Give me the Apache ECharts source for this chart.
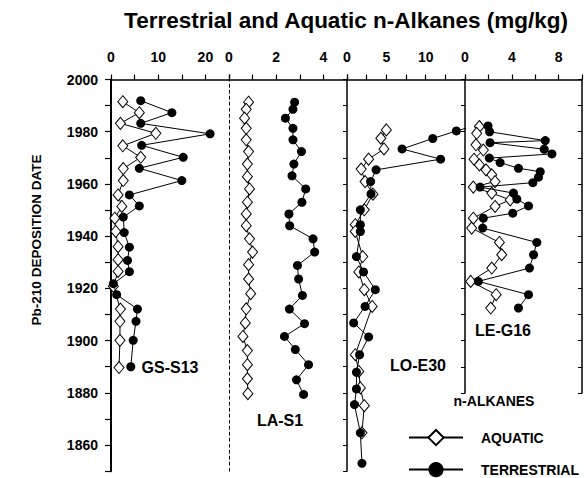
<!DOCTYPE html>
<html><head><meta charset="utf-8">
<script src="https://cdn.jsdelivr.net/npm/echarts@6/dist/echarts.min.js"></script>
<style>html,body{margin:0;padding:0;background:#fff}#c{width:585px;height:478px}</style>
</head><body><div id="c"></div>
<script>
// ---- data (values in mg/kg, by Pb-210 deposition year) ----
const gsYearAq = [1991.5,1987.3,1983.2,1979.4,1974.6,1970.2,1965.9,1961.3,1955.8,1951.4,1946.9,1941.8,1936.0,1931.0,1926.5,1920.8,1912.1,1907.4,1900.1,1889.7];
const gsAq     = [2.5,6.0,2.0,9.5,2.5,6.3,2.6,2.6,1.5,2.3,0.8,1.0,1.5,1.5,1.5,0.5,2.0,1.9,1.9,1.7];
const gsYearTe = [1991.9,1987.3,1983.2,1979.2,1974.8,1970.2,1966.0,1961.3,1955.8,1951.6,1947.3,1941.4,1935.8,1930.7,1926.4,1921.8,1917.6,1912.1,1907.4,1900.1,1890.0];
const gsTe     = [6.3,12.9,6.3,21.0,6.5,15.3,6.0,15.0,3.9,6.0,2.6,2.8,3.9,3.5,3.9,0.5,1.2,5.6,5.3,4.7,4.2];

const laYearAq = [1991.3,1988.6,1985.2,1981.3,1976.9,1972.4,1967.6,1962.8,1958.1,1953.0,1948.5,1944.0,1939.0,1933.9,1929.1,1923.6,1918.0,1912.2,1906.8,1901.6,1896.2,1890.8,1885.4,1879.7];
const laAq     = [0.83,0.73,0.66,0.73,0.73,0.83,0.78,0.78,0.87,0.78,0.73,0.73,0.87,1.0,0.83,0.83,0.92,0.73,0.69,0.59,0.78,0.78,0.78,0.8];
const laYearTe = [1991.3,1988.6,1985.2,1981.3,1976.9,1972.4,1967.6,1963.1,1958.1,1953.0,1948.5,1944.0,1939.0,1933.9,1928.8,1923.6,1917.3,1912.1,1906.5,1901.6,1896.6,1890.8,1885.0,1879.4];
const laTe     = [2.78,2.71,2.39,2.71,2.71,3.07,2.75,2.67,3.25,3.09,2.54,2.57,3.56,3.63,2.9,2.95,3.11,2.56,3.2,2.35,2.81,3.37,2.86,3.16];

const loYearAq = [1980.7,1977.5,1973.4,1969.5,1965.7,1960.9,1956.1,1950.1,1944.4,1941.8,1932.2,1926.3,1919.5,1913.1,1894.6,1888.2,1881.9,1875.1,1864.7];
const loAq     = [5.0,4.3,4.7,2.75,1.8,2.3,3.3,2.2,1.05,1.05,2.0,1.5,2.2,3.2,1.05,1.5,1.7,2.2,1.9];
const loYearTe = [1982.5,1980.3,1977.4,1973.4,1969.5,1965.4,1960.9,1956.2,1950.1,1944.4,1941.8,1932.2,1926.3,1919.5,1913.1,1906.8,1901.4,1894.6,1887.9,1881.5,1875.5,1864.7,1853.0];
const loTe     = [16.5,13.9,10.9,7.0,11.9,3.7,3.0,3.05,1.7,1.7,1.7,1.2,2.1,3.6,2.3,0.85,2.75,1.6,1.2,1.2,0.95,1.7,1.9];

const leYearAq = [1982.0,1979.4,1975.0,1973.0,1969.5,1967.3,1965.4,1963.5,1960.9,1958.8,1956.5,1953.9,1951.4,1946.9,1943.1,1937.6,1932.9,1927.8,1922.7,1917.6,1912.5];
const leAq     = [1.23,1.0,0.94,1.57,0.77,1.23,1.8,2.29,2.57,0.71,2.29,3.86,2.57,0.71,0.57,2.94,3.14,2.29,0.49,2.66,2.2];
const leYearTe = [1982.2,1980.0,1976.6,1975.8,1973.3,1971.5,1969.9,1968.2,1966.0,1964.7,1962.6,1960.5,1958.8,1956.5,1954.2,1951.6,1948.8,1946.9,1943.1,1937.6,1932.9,1927.8,1922.7,1917.6,1912.5];
const leTe     = [1.97,2.1,6.86,2.14,6.77,7.43,2.08,3.0,4.57,6.43,6.28,5.8,1.29,4.14,4.43,5.43,4.08,1.57,1.51,6.14,5.86,5.51,1.14,5.43,4.57];

const panelNames = ['GS-S13','LA-S1','LO-E30','LE-G16'];
const xMax = [25, 5, 15, 10];
const xInterval = [5, 1, 2.5, 2];
const xLabelStep = [10, 2, 5, 4];
const yearTicks = [1850, 2000, 10, 20];  // min, max, interval, label step
const seriesNames = ['AQUATIC','TERRESTRIAL'];

// ---- layout ----
const FONT = '"Liberation Sans", Arial, Helvetica, sans-serif';
const panelLeft = [111, 229, 347, 465];
const panelWidth = [118, 118, 118, 117];
const aqData = [[gsYearAq,gsAq],[laYearAq,laAq],[loYearAq,loAq],[leYearAq,leAq]];
const teData = [[gsYearTe,gsTe],[laYearTe,laTe],[loYearTe,loTe],[leYearTe,leTe]];
function pair(ys, vs){ return ys.map((y,i)=>[vs[i], y]); }

const grid = panelLeft.map((l,i)=>({left:l, width:panelWidth[i], top:79.5, bottom: i<3 ? 6.8 : 85.1}));
const xAxis = panelLeft.map((l,i)=>({
  gridIndex:i, type:'value', position:'top', min:0, max:xMax[i], interval:xInterval[i],
  axisLine:{show:true, onZero:false, lineStyle:{color:'#000', width:1.5}},
  axisTick:{show:true, length:5, lineStyle:{color:'#000', width:1.2}},
  axisLabel:{formatter: v => (Math.abs(v % xLabelStep[i])<1e-6 && v < xMax[i]) ? String(v) : '',
    margin:16, color:'#000', fontWeight:'bold', fontSize:14, fontFamily:FONT},
  splitLine:{show:false}
}));
const yBase = {type:'value', max:yearTicks[1], interval:yearTicks[2], splitLine:{show:false}};
const yAxis = [
  Object.assign({}, yBase, {gridIndex:0, min:yearTicks[0],
    axisLine:{show:true, onZero:false, lineStyle:{color:'#000', width:2}},
    axisTick:{show:true, length:6, lineStyle:{color:'#000', width:1.2}},
    axisLabel:{formatter: v => (v % yearTicks[3] === 0 && v > yearTicks[0]) ? String(v) : '', margin:13,
      color:'#000', fontWeight:'bold', fontSize:14, fontFamily:FONT}}),
  Object.assign({}, yBase, {gridIndex:1, min:yearTicks[0],
    axisLine:{show:true, onZero:false, lineStyle:{color:'#000', width:1, type:[3,3]}},
    axisTick:{show:false}, axisLabel:{show:false}}),
  Object.assign({}, yBase, {gridIndex:2, min:yearTicks[0],
    axisLine:{show:true, onZero:false, lineStyle:{color:'#000', width:1.5}},
    axisTick:{show:true, length:4, lineStyle:{color:'#000'}}, axisLabel:{show:false}}),
  Object.assign({}, yBase, {gridIndex:3, min:1880,
    axisLine:{show:true, onZero:false, lineStyle:{color:'#000', width:1.5}},
    axisTick:{show:true, length:4, lineStyle:{color:'#000'}}, axisLabel:{show:false}}),
  Object.assign({}, yBase, {gridIndex:3, min:1880, position:'right',
    axisLine:{show:true, onZero:false, lineStyle:{color:'#000', width:1.5}},
    axisTick:{show:true, inside:true, length:4, lineStyle:{color:'#000'}}, axisLabel:{show:false}})
];

const series = [];
for (let i=0;i<4;i++){
  series.push({
    name:seriesNames[0], type:'line', xAxisIndex:i, yAxisIndex:i, data:pair(aqData[i][0], aqData[i][1]),
    symbol:'diamond', symbolSize:[10,12], clip:true,
    itemStyle:{color:'#fff', borderColor:'#000', borderWidth:1},
    lineStyle:{color:'#000', width:1}, z:2
  });
  series.push({
    name:seriesNames[1], type:'line', xAxisIndex:i, yAxisIndex:i, data:pair(teData[i][0], teData[i][1]),
    symbol:'circle', symbolSize:9, clip:true,
    itemStyle:{color:'#000', borderColor:'#000', borderWidth:0},
    lineStyle:{color:'#000', width:1}, z:3
  });
}

function txt(text, x, y, size, rot){
  return {type:'text', x:x, y:y, rotation:rot||0, silent:true,
    style:{text:text, align:'center', verticalAlign:'middle', fill:'#000',
      font:'bold '+size+'px '+FONT}};
}
function legendFor(name, top){
  return {data:[name], orient:'vertical', left:408, top:top, itemWidth:54, itemHeight:19,
    selectedMode:false, padding:0,
    textStyle:{fontFamily:FONT, fontWeight:'bold', fontSize:14, color:'#000', padding:[0,0,0,13]}};
}

const option = {
  animation:false,
  backgroundColor:'#fff',
  grid:grid, xAxis:xAxis, yAxis:yAxis, series:series,
  legend:[legendFor(seriesNames[0], 429), legendFor(seriesNames[1], 462)],
  graphic:[
    txt('Terrestrial and Aquatic n-Alkanes (mg/kg)', 346, 20, 22.5),
    txt('Pb-210 DEPOSITION DATE', 36, 240, 13.5, Math.PI/2),
    txt(panelNames[0], 170, 367, 16),
    txt(panelNames[1], 280, 420, 16),
    txt(panelNames[2], 418, 365, 16),
    txt(panelNames[3], 503, 330, 16),
    txt('n-ALKANES', 494, 401, 14)
  ]
};
const chart = echarts.init(document.getElementById('c'), null, {renderer:'svg'});
chart.setOption(option);
</script></body></html>
